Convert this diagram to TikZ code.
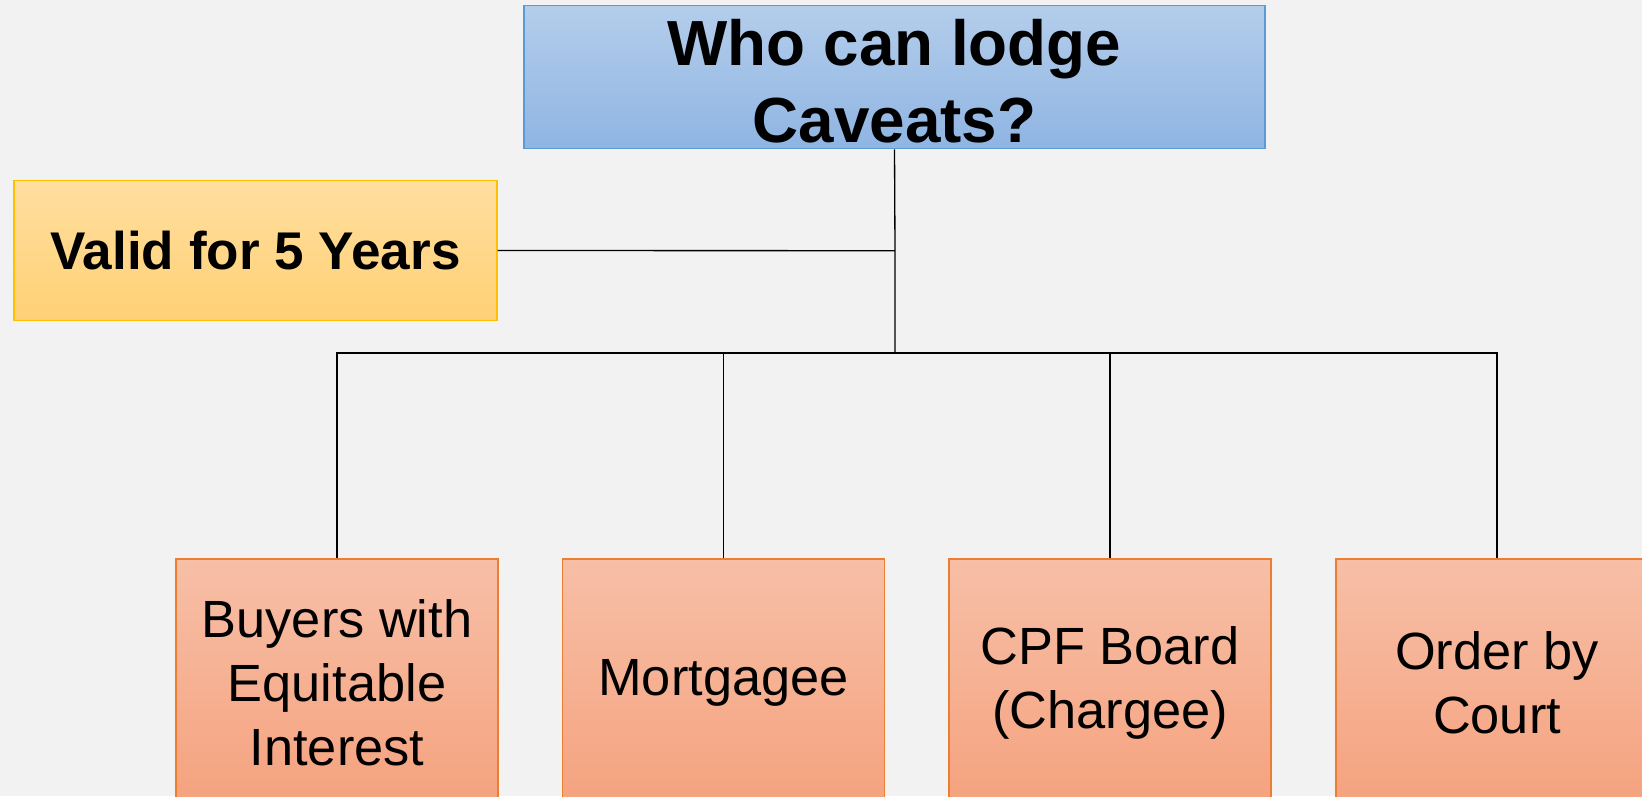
\documentclass[tikz,border=0pt]{standalone}
\usepackage{fontspec}
\setmainfont{Liberation Sans}
\definecolor{pagegray}{HTML}{F2F2F2}
\definecolor{titletop}{HTML}{B4CDEB}
\definecolor{titlebot}{HTML}{8FB5E3}
\definecolor{titleline}{HTML}{5B9BD5}
\definecolor{notetop}{HTML}{FFDE9F}
\definecolor{notebot}{HTML}{FFD175}
\definecolor{noteline}{HTML}{FFC000}
\definecolor{partytop}{HTML}{F7BFA7}
\definecolor{partybot}{HTML}{F5A27E}
\definecolor{partyline}{HTML}{ED7D31}

\begin{document}
\begin{tikzpicture}[x=0.02cm,y=-0.02cm,
    title_node/.style={rectangle,draw=titleline,line width=0.8pt,top color=titletop,bottom color=titlebot,minimum width=14.82cm,minimum height=2.82cm,align=center,font=\fontsize{36.3}{43.5}\selectfont\bfseries},
    note_node/.style={rectangle,draw=noteline,line width=0.8pt,top color=notetop,bottom color=notebot,minimum width=9.66cm,minimum height=2.81cm,align=center,font=\fontsize{30.2}{36}\selectfont\bfseries},
    party_node/.style={rectangle,draw=partyline,line width=0.8pt,top color=partytop,bottom color=partybot,minimum width=6.44cm,minimum height=4.96cm,align=center,font=\fontsize{29.8}{36.3}\selectfont}]
    \fill[pagegray] (0,0) rectangle (1642,796);
    \useasboundingbox (0,0) rectangle (1642,796);
    \clip (0,0) rectangle (1642,796);
    \node[title_node] (title) at (894.5,77) {\rule{0pt}{31pt}Who can lodge\\Caveats?};
    \node[note_node] (note) at (255.5,250.5) {Valid for 5 Years};
    \node[party_node] (buyers) at (337,683) {Buyers with\\Equitable\\Interest};
    \node[party_node] (mortgagee) at (723.5,683) {Mortgagee};
    \node[party_node] (cpf) at (1110,683) {CPF Board\\(Chargee)};
    \node[party_node] (court) at (1497,683) {Order by\\Court};
    \coordinate (hub) at (895,250.7);
    \coordinate (bus) at (895,353);
    \draw[line width=0.75pt] (title.south) -- (hub) -- (bus);
    \draw[line width=0.75pt] (note.east) -- (hub);
    \draw[line width=0.75pt] (buyers.north) |- (bus) -| (court.north);
    \draw[line width=0.75pt] (mortgagee.north) -- (mortgagee.north |- bus);
    \draw[line width=0.75pt] (cpf.north) -- (cpf.north |- bus);
\end{tikzpicture}
\end{document}
